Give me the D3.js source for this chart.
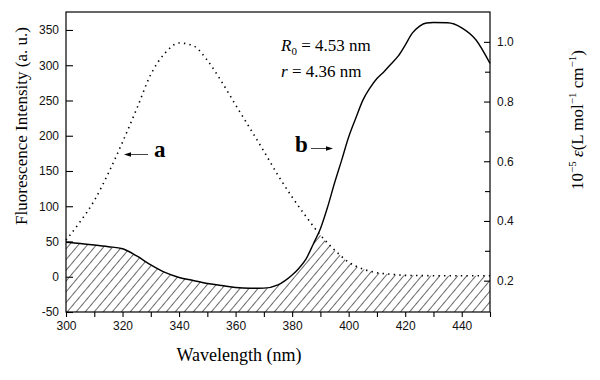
<!DOCTYPE html>
<html>
<head>
<meta charset="utf-8">
<script src="https://cdn.jsdelivr.net/npm/d3@7"></script>
<style>
  body { margin: 0; background: #fff; }
  .tick text { font-family: "Liberation Sans", Arial, sans-serif; font-size: 12px; fill: #111; }
  .title { font-family: "Liberation Serif", "Times New Roman", serif; fill: #000; }
</style>
</head>
<body>
<div id="chart"></div>
<script>
// curve a: fluorescence emission (left axis)
const waveA = [300, 305, 310, 315, 320, 325, 330, 335, 340, 345, 350, 355, 360, 365, 370,
  375, 380, 385, 390, 395, 400, 405, 410, 415, 420, 430, 440, 450];
const fluorA = [52, 78, 108, 147, 191, 238, 287, 317, 331.5, 327.7, 307, 277, 243.7, 211, 178,
  144, 113, 85, 59, 38, 20.6, 11, 5.7, 3.6, 2, 1.5, 1.5, 1.5];

// curve b: absorption (right axis)
const waveB = [300, 305, 310, 315, 320, 325, 330, 335, 340, 345, 350, 355, 360, 365, 370, 375,
  377.5, 380, 382.5, 385, 387.5, 390, 392.5, 395, 397.5, 400, 402.5, 405, 407.5, 410, 412.5,
  415, 417.5, 420, 422.5, 425, 427.5, 430, 435, 440, 445, 450];
const absB = [0.3285, 0.3245, 0.3195, 0.3138, 0.3068, 0.2827, 0.2526, 0.2274, 0.2107, 0.2007,
  0.1906, 0.184, 0.1772, 0.1746, 0.1749, 0.1856, 0.2, 0.219, 0.2425, 0.274, 0.323, 0.374,
  0.445, 0.527, 0.603, 0.681, 0.744, 0.804, 0.845, 0.877, 0.9, 0.926, 0.952, 0.989, 1.029,
  1.052, 1.063, 1.0646, 1.064, 1.047, 1.007, 0.9277];

const xMajor = [300, 320, 340, 360, 380, 400, 420, 440];
const xMinor = [310, 330, 350, 370, 390, 410, 430, 450];
const yLeftTicks = [-50, 0, 50, 100, 150, 200, 250, 300, 350];
const yRightMajor = [0.2, 0.4, 0.6, 0.8, 1.0];
const yRightMinor = [0.3, 0.5, 0.7, 0.9];

const margin = {top: 12, right: 110, bottom: 68, left: 66};
const W = 600, H = 380;
const width = W - margin.left - margin.right;
const height = H - margin.top - margin.bottom;

const svg = d3.select("#chart").append("svg")
  .attr("width", W).attr("height", H);

const defs = svg.append("defs");

// hatch pattern
defs.append("pattern")
  .attr("id", "hatch")
  .attr("patternUnits", "userSpaceOnUse")
  .attr("width", 10).attr("height", 6.9)
  .attr("patternTransform", "rotate(-50)")
  .append("path")
  .attr("d", "M-1,0.5H11")
  .attr("stroke", "#444")
  .attr("stroke-width", 0.8);

const g = svg.append("g")
  .attr("transform", `translate(${margin.left},${margin.top})`);

const x = d3.scaleLinear().domain([300, 450]).range([0, width]);
const yL = d3.scaleLinear().domain([-50, 375.5]).range([height, 0]);
const yR = d3.scaleLinear().domain([0.095, 1.1]).range([height, 0]);

const ptsA = waveA.map((w, i) => [w, fluorA[i]]);
const ptsB = waveB.map((w, i) => [w, absB[i]]);

const lineA = d3.line().x(d => x(d[0])).y(d => yL(d[1])).curve(d3.curveMonotoneX);
const lineB = d3.line().x(d => x(d[0])).y(d => yR(d[1])).curve(d3.curveMonotoneX);
const areaA = d3.area().x(d => x(d[0])).y0(height).y1(d => yL(d[1])).curve(d3.curveMonotoneX);
const areaB = d3.area().x(d => x(d[0])).y0(height).y1(d => yR(d[1])).curve(d3.curveMonotoneX);

// overlap region = under both curves
defs.append("clipPath").attr("id", "clipA").append("path").attr("d", areaA(ptsA));
defs.append("clipPath").attr("id", "clipB").append("path").attr("d", areaB(ptsB));

g.append("g").attr("clip-path", "url(#clipA)")
  .append("g").attr("clip-path", "url(#clipB)")
  .append("rect")
  .attr("width", width).attr("height", height)
  .attr("fill", "url(#hatch)");

g.append("path")
  .attr("d", lineA(ptsA))
  .attr("fill", "none")
  .attr("stroke", "#000")
  .attr("stroke-width", 1.6)
  .attr("stroke-dasharray", "1.4,4.2");

g.append("path")
  .attr("d", lineB(ptsB))
  .attr("fill", "none")
  .attr("stroke", "#000")
  .attr("stroke-width", 1.4);

// axes
g.append("g")
  .attr("transform", `translate(0,${height})`)
  .call(d3.axisBottom(x).tickValues(xMajor).tickSizeInner(5).tickSizeOuter(0).tickPadding(4).tickFormat(d3.format("d")));
g.append("g")
  .attr("transform", `translate(0,${height})`)
  .call(d3.axisBottom(x).tickValues(xMinor).tickSizeInner(5).tickSizeOuter(0).tickFormat(""));

g.append("g")
  .call(d3.axisLeft(yL).tickValues(yLeftTicks).tickSizeInner(-7).tickSizeOuter(0).tickPadding(7).tickFormat(d => String(d)));

g.append("g")
  .attr("transform", `translate(${width},0)`)
  .call(d3.axisRight(yR).tickValues(yRightMajor).tickSizeInner(-6).tickSizeOuter(0).tickPadding(7).tickFormat(d3.format(".1f")));
g.append("g")
  .attr("transform", `translate(${width},0)`)
  .call(d3.axisRight(yR).tickValues(yRightMinor).tickSizeInner(-5).tickSizeOuter(0).tickFormat(""));

g.selectAll(".domain").remove();
g.selectAll(".tick line").attr("stroke", "#000").attr("stroke-width", 1.1);

g.append("rect")
  .attr("width", width).attr("height", height)
  .attr("fill", "none")
  .attr("stroke", "#000")
  .attr("stroke-width", 1.2);

// axis titles
svg.append("text")
  .attr("class", "title")
  .attr("x", 239).attr("y", 361)
  .attr("text-anchor", "middle")
  .style("font-size", "18px")
  .text("Wavelength (nm)");

svg.append("text")
  .attr("class", "title")
  .attr("transform", "translate(27,126) rotate(-90)")
  .attr("text-anchor", "middle")
  .style("font-size", "17px")
  .text("Fluorescence Intensity (a. u.)");

const rt = svg.append("text")
  .attr("class", "title")
  .attr("transform", "translate(583,120) rotate(-90)")
  .attr("text-anchor", "middle")
  .style("font-size", "17px");
rt.append("tspan").text("10");
rt.append("tspan").attr("dy", -7).style("font-size", "11px").text("\u22125");
rt.append("tspan").attr("dy", 7).text("\u00a0");
rt.append("tspan").style("font-style", "italic").text("\u03b5");
rt.append("tspan").text("(L mol");
rt.append("tspan").attr("dy", -7).style("font-size", "11px").text("\u22121");
rt.append("tspan").attr("dy", 7).text(" cm");
rt.append("tspan").attr("dy", -7).style("font-size", "11px").text("\u22121");
rt.append("tspan").attr("dy", 7).text(")");

// annotations
const r0 = svg.append("text").attr("class", "title")
  .attr("x", 281).attr("y", 51).style("font-size", "17px");
r0.append("tspan").style("font-style", "italic").text("R");
r0.append("tspan").attr("dy", 4).style("font-size", "11px").text("0");
r0.append("tspan").attr("dy", -4).text(" = 4.53 nm");

const rr = svg.append("text").attr("class", "title")
  .attr("x", 281).attr("y", 77).style("font-size", "17px");
rr.append("tspan").style("font-style", "italic").text("r");
rr.append("tspan").text(" = 4.36 nm");

svg.append("text").attr("class", "title")
  .attr("x", 154).attr("y", 157)
  .style("font-size", "23px").style("font-weight", "bold")
  .text("a");
svg.append("text").attr("class", "title")
  .attr("x", 295).attr("y", 152)
  .style("font-size", "23px").style("font-weight", "bold")
  .text("b");

function arrow(x1, x2, yy) {
  const dir = Math.sign(x2 - x1);
  svg.append("line")
    .attr("x1", x1).attr("y1", yy).attr("x2", x2 - dir * 5).attr("y2", yy)
    .attr("stroke", "#444").attr("stroke-width", 1);
  svg.append("path")
    .attr("d", `M${x2},${yy}L${x2 - dir * 7},${yy - 2.2}L${x2 - dir * 7},${yy + 2.2}Z`)
    .attr("fill", "#000");
}
arrow(148, 124, 154.5);
arrow(311, 333, 148.5);
</script>
</body>
</html>
